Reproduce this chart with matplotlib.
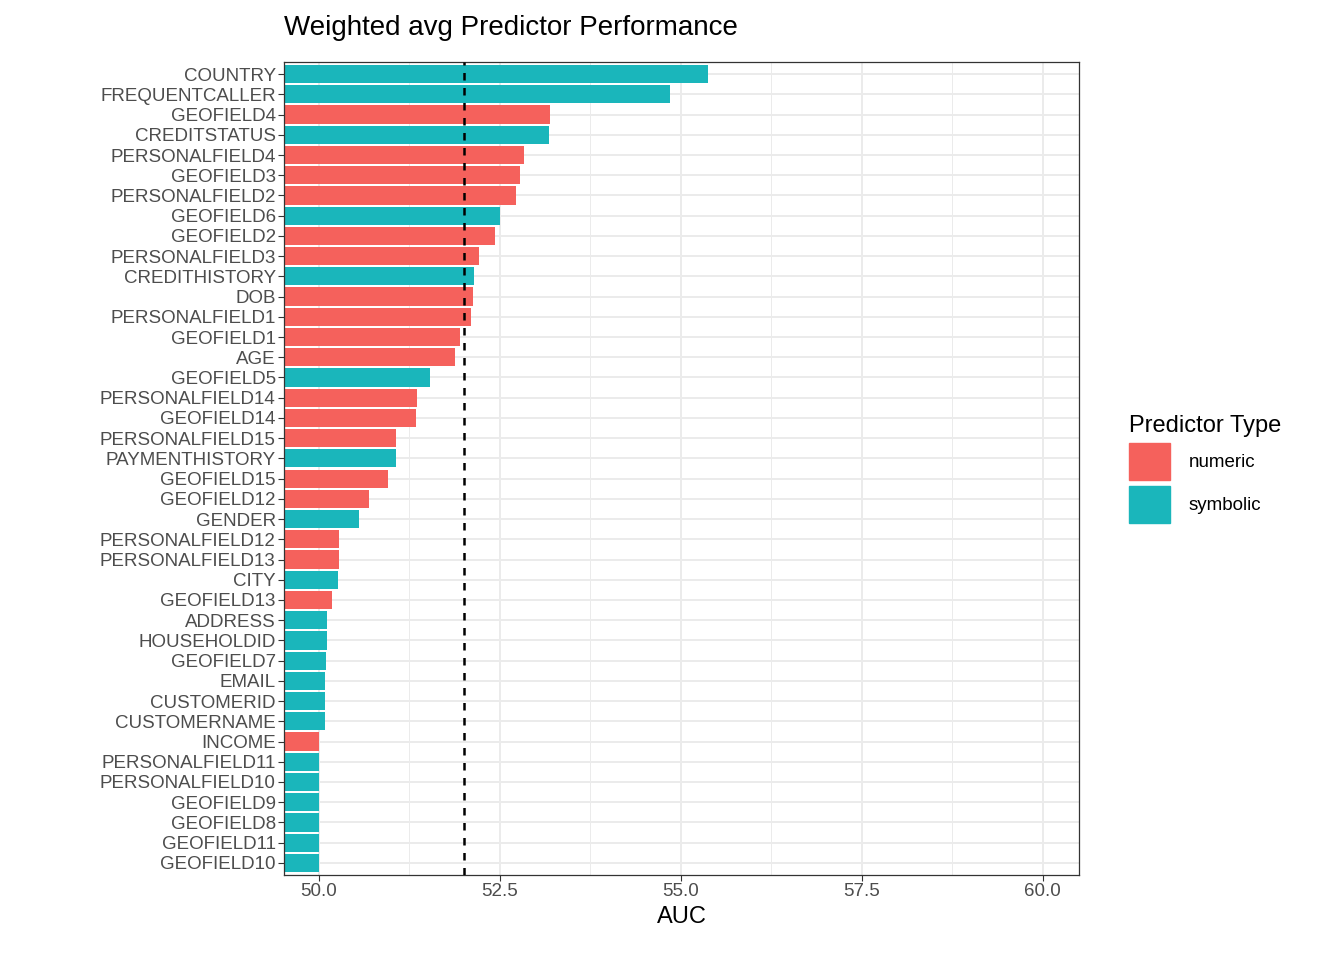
import matplotlib
matplotlib.use("Agg")
import matplotlib.pyplot as plt
from matplotlib.patches import Patch

plt.rcParams['font.family'] = ['Liberation Sans', 'DejaVu Sans']

names = ["COUNTRY","FREQUENTCALLER","GEOFIELD4","CREDITSTATUS","PERSONALFIELD4","GEOFIELD3",
"PERSONALFIELD2","GEOFIELD6","GEOFIELD2","PERSONALFIELD3","CREDITHISTORY","DOB","PERSONALFIELD1",
"GEOFIELD1","AGE","GEOFIELD5","PERSONALFIELD14","GEOFIELD14","PERSONALFIELD15","PAYMENTHISTORY",
"GEOFIELD15","GEOFIELD12","GENDER","PERSONALFIELD12","PERSONALFIELD13","CITY","GEOFIELD13",
"ADDRESS","HOUSEHOLDID","GEOFIELD7","EMAIL","CUSTOMERID","CUSTOMERNAME","INCOME",
"PERSONALFIELD11","PERSONALFIELD10","GEOFIELD9","GEOFIELD8","GEOFIELD11","GEOFIELD10"]
auc = [55.37,54.85,53.19,53.18,52.83,52.78,52.73,52.50,52.44,52.22,52.15,52.13,52.10,51.95,51.88,
51.53,51.35,51.34,51.06,51.06,50.95,50.69,50.55,50.28,50.28,50.26,50.18,50.11,50.11,50.10,50.08,
50.08,50.08,50.01,50.0,50.0,50.0,50.0,50.0,50.0]
ptype = ["s","s","n","s","n","n","n","s","n","n","s","n","n","n","n","s","n","n","n","s","n","n","s",
"n","n","s","n","s","s","s","s","s","s","n","s","s","s","s","s","s"]
avg_line = 52.0

cols = {"n": "#F5615C", "s": "#1AB6BB"}
fig = plt.figure(figsize=(13.44, 9.6), dpi=100)
ax = fig.add_axes([284/1344, 1-875/960, (1079-284)/1344, (875-62)/960])
n = len(names)
ys = list(range(n))[::-1]
base = 0
ax.barh(ys, [a - base for a in auc], left=base, height=0.9, color=[cols[t] for t in ptype], zorder=2)
ax.axvline(avg_line, color="black", ls=(0, (3, 3)), lw=1.8, zorder=3)
ax.set_xlim(49.52, 60.5)
ax.set_ylim(-0.6, n - 0.4)
ax.set_yticks(ys)
ax.set_yticklabels(names, fontsize=13.5, color="#4D4D4D")
ax.set_xticks([50, 52.5, 55, 57.5, 60])
ax.set_xticklabels(["50.0", "52.5", "55.0", "57.5", "60.0"], fontsize=13.5, color="#4D4D4D")
ax.set_xticks([51.25, 53.75, 56.25, 58.75], minor=True)
ax.grid(True, which="major", color="#EBEBEB", lw=1.4, zorder=0)
ax.grid(True, which="minor", axis="x", color="#EBEBEB", lw=0.7, zorder=0)
ax.tick_params(which="minor", length=0)
ax.tick_params(which="major", length=4, color="#333333", pad=2)
for s in ax.spines.values():
    s.set_color("#333333"); s.set_linewidth(0.9)
ax.set_xlabel("AUC", fontsize=17, labelpad=4)
fig.text(284/1344, 1-28/960, "Weighted avg Predictor Performance", fontsize=20, va="center")
handles = [Patch(color=cols["n"], label="numeric"), Patch(color=cols["s"], label="symbolic")]
leg = fig.legend(handles=handles, title="Predictor Type", loc="upper left",
                 bbox_to_anchor=(1112/1344, 1-398/960), frameon=False, fontsize=13.5,
                 title_fontsize=17, handlelength=2.2, handleheight=2.6, labelspacing=0.35,
                 handletextpad=1.0)
leg._legend_box.align = "left"
fig.savefig("out.png", dpi=100)
